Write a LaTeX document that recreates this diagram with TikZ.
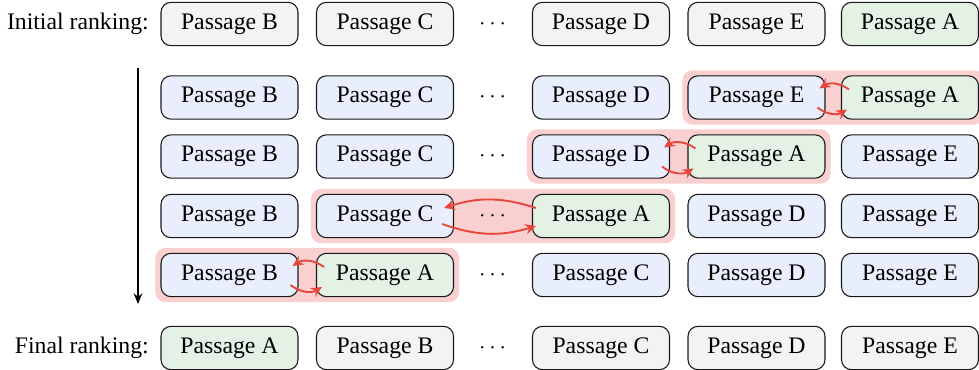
\documentclass[tikz,border=0pt]{standalone}
\usepackage{fontspec}
\setmainfont{Liberation Serif}
\usetikzlibrary{arrows.meta,calc,fit,backgrounds}
\definecolor{boxgray}{HTML}{F2F3F5}
\definecolor{boxblue}{HTML}{E8EEFB}
\definecolor{boxgreen}{HTML}{E3F2E5}
\definecolor{hilite}{HTML}{F9CFCF}
\definecolor{swapred}{HTML}{E8453A}
\tikzset{
  psg/.style={draw=black!90, line width=0.8pt, rounded corners=7.5pt,
    minimum width=102.75pt, minimum height=32.5pt, inner sep=0pt,
    font=\fontsize{17.8}{20}\selectfont},
  pgray/.style={psg, fill=boxgray},
  pblue/.style={psg, fill=boxblue},
  pgreen/.style={psg, fill=boxgreen},
  dotsnode/.style={inner sep=0pt, font=\fontsize{17.8}{20}\selectfont},
  rowlabel/.style={anchor=east, inner sep=0pt, font=\fontsize{17.8}{20}\selectfont},
  hl/.style={fill=hilite, draw=none, rounded corners=7.5pt, inner sep=3.75pt},
  swaparr/.style={draw=swapred, line width=1.4pt, -{Stealth[length=8pt,width=7.5pt]}},
  timearr/.style={draw=black, line width=1pt, -{Stealth[length=8pt,width=6.5pt]}}
}
\begin{document}
\begin{tikzpicture}[x=0.75pt,y=-0.75pt]
\useasboundingbox (0,0) rectangle (979,370);
% column centres
\def\ca{229.5}\def\cb{385}\def\cd{492.5}\def\cc{601}\def\ce{756.5}\def\cf{910}
% row 0
\node[rowlabel] (lab0) at (149,24) {Initial ranking:};
\node[pgray] (r0a) at (\ca,24) {Passage B};
\node[pgray] (r0b) at (\cb,24) {Passage C};
\node[dotsnode] (r0d) at (\cd,24) {$\cdots$};
\node[pgray] (r0c) at (\cc,24) {Passage D};
\node[pgray] (r0e) at (\ce,24) {Passage E};
\node[pgreen] (r0f) at (\cf,24) {Passage A};
% row 1
\node[pblue] (r1a) at (\ca,97.5) {Passage B};
\node[pblue] (r1b) at (\cb,97.5) {Passage C};
\node[dotsnode] (r1d) at (\cd,97.5) {$\cdots$};
\node[pblue] (r1c) at (\cc,97.5) {Passage D};
\node[pblue] (r1e) at (\ce,97.5) {Passage E};
\node[pgreen] (r1f) at (\cf,97.5) {Passage A};
% row 2
\node[pblue] (r2a) at (\ca,156.5) {Passage B};
\node[pblue] (r2b) at (\cb,156.5) {Passage C};
\node[dotsnode] (r2d) at (\cd,156.5) {$\cdots$};
\node[pblue] (r2c) at (\cc,156.5) {Passage D};
\node[pgreen] (r2e) at (\ce,156.5) {Passage A};
\node[pblue] (r2f) at (\cf,156.5) {Passage E};
% row 3
\node[pblue] (r3a) at (\ca,216) {Passage B};
\node[pblue] (r3b) at (\cb,216) {Passage C};
\node[dotsnode] (r3d) at (\cd,216) {$\cdots$};
\node[pgreen] (r3c) at (\cc,216) {Passage A};
\node[pblue] (r3e) at (\ce,216) {Passage D};
\node[pblue] (r3f) at (\cf,216) {Passage E};
% row 4
\node[pblue] (r4a) at (\ca,275) {Passage B};
\node[pgreen] (r4b) at (\cb,275) {Passage A};
\node[dotsnode] (r4d) at (\cd,275) {$\cdots$};
\node[pblue] (r4c) at (\cc,275) {Passage C};
\node[pblue] (r4e) at (\ce,275) {Passage D};
\node[pblue] (r4f) at (\cf,275) {Passage E};
% final row
\node[rowlabel] (lab5) at (149,348) {Final ranking:};
\node[pgreen] (r5a) at (\ca,348) {Passage A};
\node[pgray] (r5b) at (\cb,348) {Passage B};
\node[dotsnode] (r5d) at (\cd,348) {$\cdots$};
\node[pgray] (r5c) at (\cc,348) {Passage C};
\node[pgray] (r5e) at (\ce,348) {Passage D};
\node[pgray] (r5f) at (\cf,348) {Passage E};
% highlights
\begin{scope}[on background layer]
\node[hl, fit=(r1e)(r1f)] (h1) {};
\node[hl, fit=(r2c)(r2e)] (h2) {};
\node[hl, fit=(r3b)(r3c)] (h3) {};
\node[hl, fit=(r4a)(r4b)] (h4) {};
\end{scope}
% swap arrows
\draw[swaparr] ($(r1f.west)+(8,-8)$) to[bend right=35] ($(r1e.east)+(-6,-9)$);
\draw[swaparr] ($(r1e.east)+(-8,10)$) to[bend right=35] ($(r1f.west)+(6,12)$);
\draw[swaparr] ($(r2e.west)+(8,-8)$) to[bend right=35] ($(r2c.east)+(-6,-9)$);
\draw[swaparr] ($(r2c.east)+(-8,10)$) to[bend right=35] ($(r2e.west)+(6,12)$);
\draw[swaparr] ($(r3c.west)+(4,-8)$) to[bend right=18] ($(r3b.east)+(-10,-8)$);
\draw[swaparr] ($(r3b.east)+(-12,8)$) to[bend right=18] ($(r3c.west)+(4,10)$);
\draw[swaparr] ($(r4b.west)+(8,-8)$) to[bend right=35] ($(r4a.east)+(-6,-9)$);
\draw[swaparr] ($(r4a.east)+(-8,10)$) to[bend right=35] ($(r4b.west)+(6,12)$);
% time arrow
\coordinate (ttop) at (138,68);
\coordinate (tbot) at (138,304);
\draw[timearr] (ttop) -- (tbot);
\end{tikzpicture}
\end{document}
